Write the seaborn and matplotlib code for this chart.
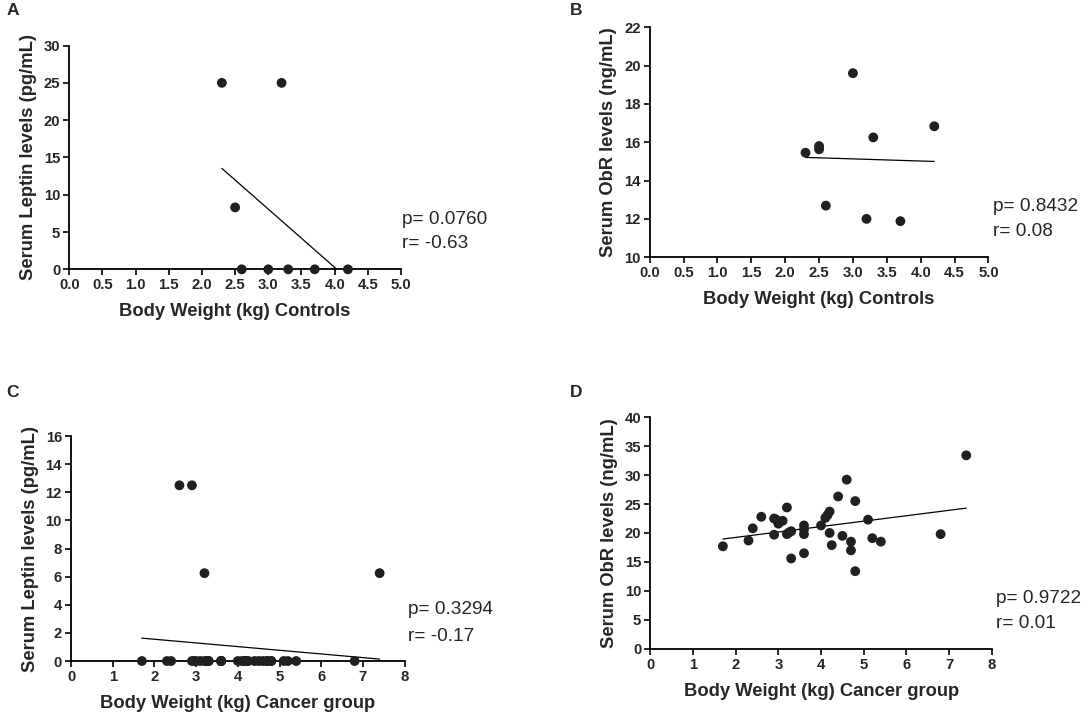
import numpy as np
import pandas as pd
import seaborn as sns
import matplotlib
matplotlib.use("Agg")
import matplotlib.pyplot as plt

# controls (panels A, B)
ctrl_wt_a = [2.3, 3.2, 2.5, 2.6, 3.0, 3.3, 3.7, 4.2]
ctrl_leptin = [25.0, 25.0, 8.3, 0.0, 0.0, 0.0, 0.0, 0.0]
ctrl_wt_b = [2.3, 2.5, 2.5, 2.6, 3.0, 3.2, 3.3, 3.7, 4.2]
ctrl_obr = [15.45, 15.8, 15.63, 12.69, 19.6, 12.0, 16.25, 11.88, 16.83]

# cancer group (panels C, D)
canc_wt = [1.7, 2.3, 2.4, 2.6, 2.9, 2.9, 2.95, 3.0, 3.1, 3.2, 3.2, 3.25,
           3.3, 3.3, 3.6, 3.6, 3.6, 3.6, 4.0, 4.1, 4.15, 4.2, 4.2, 4.25,
           4.4, 4.5, 4.6, 4.7, 4.7, 4.8, 4.8, 5.1, 5.2, 5.4, 6.8, 7.4]
canc_leptin = [0, 0, 0, 12.5, 12.5, 0, 0, 0, 0, 6.25, 0, 0,
               0, 0, 0, 0, 0, 0, 0, 0, 0, 0, 0, 0,
               0, 0, 0, 0, 0, 0, 0, 0, 0, 0, 0, 6.25]
canc_obr = [17.7, 18.7, 20.8, 22.8, 22.5, 19.7, 22.3, 21.6, 22.1, 24.4, 19.8, 20.1,
            20.3, 15.6, 21.3, 20.6, 19.8, 16.5, 21.3, 22.6, 23.1, 23.7, 20.0, 17.9,
            26.3, 19.5, 29.2, 18.5, 17.0, 25.5, 13.4, 22.3, 19.1, 18.5, 19.8, 33.4]

stats = [("p= 0.0760", "r= -0.63"), ("p= 0.8432", "r= 0.08"),
         ("p= 0.3294", "r= -0.17"), ("p= 0.9722", "r= 0.01")]

sns.set_style("ticks")
plt.rcParams["font.family"] = ["Liberation Sans", "DejaVu Sans"]

fig = plt.figure(figsize=(10.84, 7.14), dpi=100)

panels = [
    dict(x=ctrl_wt_a, y=ctrl_leptin, pos=[0.0639, 0.6228, 0.306, 0.3134],
         xlim=(0, 5), xt=np.arange(0, 5.01, 0.5), xfmt="{:.1f}",
         ylim=(0, 30), yt=np.arange(0, 31, 5),
         xl="Body Weight (kg) Controls", yl="Serum Leptin levels (pg/mL)",
         letter="A", lpos=(0.006, 0.9846), tpos=(0.3708, 0.6919, 0.6583)),
    dict(x=ctrl_wt_b, y=ctrl_obr, pos=[0.5993, 0.6398, 0.3126, 0.3221],
         xlim=(0, 5), xt=np.arange(0, 5.01, 0.5), xfmt="{:.1f}",
         ylim=(10, 22), yt=np.arange(10, 23, 2),
         xl="Body Weight (kg) Controls", yl="Serum ObR levels (ng/mL)",
         letter="B", lpos=(0.5256, 0.9846), tpos=(0.9157, 0.7102, 0.6758)),
    dict(x=canc_wt, y=canc_leptin, pos=[0.0655, 0.0742, 0.3078, 0.315],
         xlim=(0, 8), xt=np.arange(0, 9, 1), xfmt="{:.0f}",
         ylim=(0, 16), yt=np.arange(0, 17, 2),
         xl="Body Weight (kg) Cancer group", yl="Serum Leptin levels (pg/mL)",
         letter="C", lpos=(0.006, 0.4499), tpos=(0.3768, 0.1457, 0.1092)),
    dict(x=canc_wt, y=canc_obr, pos=[0.5999, 0.0913, 0.3151, 0.3245],
         xlim=(0, 8), xt=np.arange(0, 9, 1), xfmt="{:.0f}",
         ylim=(0, 40), yt=np.arange(0, 41, 5),
         xl="Body Weight (kg) Cancer group", yl="Serum ObR levels (ng/mL)",
         letter="D", lpos=(0.5256, 0.4499), tpos=(0.9185, 0.1623, 0.1267)),
]

for p, (ptxt, rtxt) in zip(panels, stats):
    ax = fig.add_axes(p["pos"])
    df = pd.DataFrame({"x": p["x"], "y": p["y"]})
    sns.regplot(data=df, x="x", y="y", ax=ax, ci=None, truncate=True,
                scatter_kws=dict(s=50, color="#231f20", edgecolor="none",
                                 clip_on=False, zorder=4, alpha=1),
                line_kws=dict(color="black", lw=0.9, zorder=3))
    ax.set_xlim(*p["xlim"])
    ax.set_ylim(*p["ylim"])
    ax.set_xticks(p["xt"])
    ax.set_xticklabels([p["xfmt"].format(v) for v in p["xt"]])
    ax.set_yticks(p["yt"])
    ax.set_yticklabels([f"{v:g}" for v in p["yt"]])
    sns.despine(ax=ax)
    for s in ("left", "bottom"):
        ax.spines[s].set_linewidth(1.3)
        ax.spines[s].set_color("black")
    ax.tick_params(direction="out", length=4, width=1.2, color="black",
                   labelsize=10.7, pad=2.5)
    for lab in ax.get_xticklabels() + ax.get_yticklabels():
        lab.set_fontweight("bold")
    ax.set_xlabel(p["xl"], fontsize=13.2, fontweight="bold", labelpad=8)
    ax.set_ylabel(p["yl"], fontsize=13.2, fontweight="bold", labelpad=5)
    fig.text(p["lpos"][0], p["lpos"][1], p["letter"], fontsize=12.5,
             fontweight="bold", va="center", ha="left")
    tx, ty1, ty2 = p["tpos"]
    fig.text(tx, ty1, ptxt, fontsize=13.7, va="center", ha="left")
    fig.text(tx, ty2, rtxt, fontsize=13.7, va="center", ha="left")

fig.savefig("out.png", dpi=100)
